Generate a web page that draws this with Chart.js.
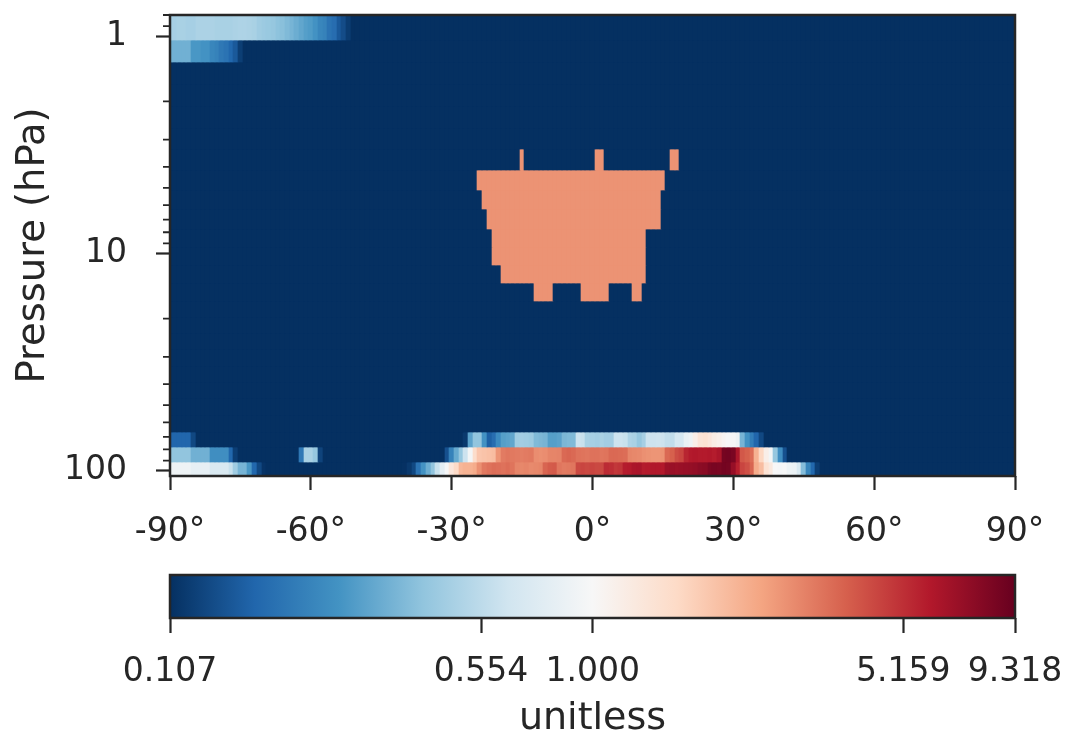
<!DOCTYPE html>
<html>
<head>
<meta charset="utf-8">
<script src="https://cdn.jsdelivr.net/npm/chart.js@4/dist/chart.umd.min.js"></script>
<style>
  html, body { margin: 0; padding: 0; background: #fff; overflow: hidden; }
  #wrap { position: relative; width: 1065px; height: 735px; }
  #wrap canvas { position: absolute; left: 0; }
  #heat { top: 0; }
  #cbar { top: 560px; }
</style>
</head>
<body>
<div id="wrap">
  <canvas id="heat" width="1065" height="560"></canvas>
  <canvas id="cbar" width="1065" height="175"></canvas>
</div>
<script>
// Latitude cell centres (deg)
const latitudes = [
  -90, -89, -88, -87, -86, -85, -84, -83, -82, -81, -80, -79, -78, -77, -76, -75, -74, -73, -72, -71,
  -70, -69, -68, -67, -66, -65, -64, -63, -62, -61, -60, -59, -58, -57, -56, -55, -54, -53, -52, -51,
  -50, -49, -48, -47, -46, -45, -44, -43, -42, -41, -40, -39, -38, -37, -36, -35, -34, -33, -32, -31,
  -30, -29, -28, -27, -26, -25, -24, -23, -22, -21, -20, -19, -18, -17, -16, -15, -14, -13, -12, -11,
  -10, -9, -8, -7, -6, -5, -4, -3, -2, -1, 0, 1, 2, 3, 4, 5, 6, 7, 8, 9,
  10, 11, 12, 13, 14, 15, 16, 17, 18, 19, 20, 21, 22, 23, 24, 25, 26, 27, 28, 29,
  30, 31, 32, 33, 34, 35, 36, 37, 38, 39, 40, 41, 42, 43, 44, 45, 46, 47, 48, 49,
  50, 51, 52, 53, 54, 55, 56, 57, 58, 59, 60, 61, 62, 63, 64, 65, 66, 67, 68, 69,
  70, 71, 72, 73, 74, 75, 76, 77, 78, 79, 80, 81, 82, 83, 84, 85, 86, 87, 88, 89, 90
];
// Pressure level edges (hPa), top of plot to bottom
const pressureEdges = [0.8, 1.04, 1.32, 1.67, 2.10, 2.64, 3.31, 4.13, 5.11, 6.24, 7.71, 9.35,
  11.28, 13.67, 16.5, 19.6, 23.3, 27.7, 32.9, 39.1, 46.5, 55.3, 66.2, 77.6, 91.4, 106];

// Axis ticks
const xTicks = [-90, -60, -30, 0, 30, 60, 90];
const yTicks = [1, 10, 100];
const yMinorTicks = [0.8, 0.9, 2, 3, 4, 5, 6, 7, 8, 9, 20, 30, 40, 50, 60, 70, 80, 90];
const colorTicks = [0.107, 0.554, 1.000, 5.159, 9.318];

// Value of every cell not listed below (bottom of the colour scale)
const fillValue = 0.107;

// Level 0 (0.80-1.04 hPa) from 90S
const lev0From90S = [0.47, 0.47, 0.48, 0.48, 0.47, 0.47, 0.49, 0.49, 0.49, 0.49, 0.48, 0.48, 0.48, 0.48,
  0.49, 0.50, 0.50, 0.49, 0.48, 0.45, 0.44, 0.43, 0.42, 0.40, 0.39, 0.37, 0.35, 0.33, 0.31, 0.29,
  0.28, 0.26, 0.23, 0.22, 0.19, 0.18, 0.15, 0.135, 0.118];
// Level 1 (1.04-1.32 hPa) from 90S
const lev1From90S = [0.34, 0.34, 0.34, 0.34, 0.34, 0.27, 0.27, 0.26, 0.26, 0.23, 0.22, 0.20, 0.19, 0.17, 0.15, 0.12];

// Level 22 (66-78 hPa)
const lev22From90S = [0.167, 0.167, 0.167, 0.167, 0.167, 0.13];
const lev22From27S = [0.115, 0.30, 0.41, 0.41, 0.26, 0.16, 0.18, 0.24, 0.29, 0.30,
  0.31, 0.45, 0.46, 0.45, 0.44, 0.37, 0.36, 0.35, 0.29, 0.29,
  0.30, 0.36, 0.37, 0.37, 0.62, 0.60, 0.48, 0.47, 0.46, 0.48,
  0.46, 0.46, 0.62, 0.62, 0.60, 0.50, 0.48, 0.42, 0.47, 0.62,
  0.62, 0.63, 0.62, 0.58, 0.57, 0.68, 0.68, 0.85, 0.90, 1.15,
  1.35, 1.40, 1.30, 1.18, 1.12, 1.05, 1.00, 0.98, 0.90, 0.35,
  0.26, 0.21, 0.167, 0.13];

// Level 23 (78-91 hPa)
const lev23From90S = [0.41, 0.41, 0.41, 0.41, 0.41, 0.34, 0.34, 0.34, 0.34, 0.25, 0.25, 0.25, 0.25, 0.17, 0.12];
const lev23From62S = [0.20, 0.48, 0.48, 0.42, 0.125];
const lev23From31S = [0.14, 0.22, 0.32, 0.42, 0.62, 0.95, 1.5, 1.85, 1.9, 1.95,
  2.0, 2.7, 3.2, 3.3, 3.25, 3.2, 3.15, 3.2, 3.25, 2.85,
  2.8, 2.85, 3.0, 3.0, 3.05, 3.6, 3.7, 3.6, 3.4, 3.35,
  3.3, 3.4, 3.4, 3.3, 3.35, 3.6, 3.6, 3.55, 3.5, 3.0,
  2.95, 2.9, 2.8, 2.75, 2.7, 2.7, 2.75, 3.6, 3.8, 4.3,
  4.5, 5.5, 5.9, 6.0, 5.9, 5.9, 6.0, 5.8, 6.2, 8.5,
  8.7, 8.3, 6.2, 4.0, 3.8, 3.5, 2.2, 1.6, 1.15, 0.95,
  0.42, 0.25, 0.14];

// Level 24 (91-106 hPa)
const lev24From90S = [0.90, 0.90, 0.90, 0.90, 0.90, 0.82, 0.82, 0.82, 0.82, 0.70, 0.70, 0.70, 0.70,
  0.60, 0.45, 0.35, 0.35, 0.27, 0.17, 0.13, 0.11];
const lev24From40S = [0.108, 0.115, 0.13, 0.19, 0.26, 0.33, 0.41, 0.60, 0.80, 0.98,
  1.30, 1.55, 2.10, 2.20, 2.20, 2.30, 2.80, 3.25, 3.40, 3.50,
  3.45, 3.40, 3.50, 3.35, 3.00, 2.95, 3.00, 2.90, 2.95, 3.00,
  3.70, 3.90, 3.95, 3.30, 3.20, 3.25, 3.30, 4.40, 4.50, 4.40,
  4.50, 4.40, 4.40, 5.30, 5.20, 4.90, 5.00, 5.80, 5.90, 6.20,
  6.30, 5.80, 5.90, 6.00, 6.00, 5.95, 6.80, 6.90, 6.80, 6.90,
  7.00, 7.10, 7.20, 7.50, 7.60, 8.20, 8.40, 8.30, 8.60, 8.50,
  7.00, 5.70, 4.50, 4.20, 3.70, 2.30, 2.00, 1.40, 1.25, 1.00,
  0.98, 1.00, 0.90, 0.88, 0.70, 0.38, 0.23, 0.17, 0.12];

// Uniform block in the middle stratosphere: [level, first lat, last lat]
const blockValue = 2.75;
const blockSpans = [
  [6, -15, -15], [6, 1, 2], [6, 17, 18],
  [7, -24, 15], [8, -23, 14], [9, -22, 14],
  [10, -21, 11], [11, -21, 11], [12, -19, 11],
  [13, -12, -9], [13, -2, 3], [13, 9, 10]
];

const FONT = '"DejaVu Sans", sans-serif';
const INK = '#262626';

// Build the level x latitude grid
const grid = pressureEdges.slice(1).map(() => latitudes.map(() => fillValue));
function putRun(level, firstLat, values) {
  const i0 = latitudes.indexOf(firstLat);
  values.forEach((v, k) => { grid[level][i0 + k] = v; });
}
putRun(0, -90, lev0From90S);
putRun(1, -90, lev1From90S);
putRun(22, -90, lev22From90S);
putRun(22, -27, lev22From27S);
putRun(23, -90, lev23From90S);
putRun(23, -62, lev23From62S);
putRun(23, -31, lev23From31S);
putRun(24, -90, lev24From90S);
putRun(24, -40, lev24From40S);
blockSpans.forEach(([level, a, b]) => {
  latitudes.forEach((lat, i) => { if (lat >= a && lat <= b) grid[level][i] = blockValue; });
});

// RdBu_r colour map on a log scale
const rdbuR = ['#053061', '#2166ac', '#4393c3', '#92c5de', '#d1e5f0', '#f7f7f7',
  '#fddbc7', '#f4a582', '#d6604d', '#b2182b', '#67001f'];
const rdbuRgb = rdbuR.map(h => [1, 3, 5].map(i => parseInt(h.slice(i, i + 2), 16)));
const logMin = Math.log10(colorTicks[0]);
const logMax = Math.log10(colorTicks[colorTicks.length - 1]);
function colorFor(v) {
  let f = (Math.log10(v) - logMin) / (logMax - logMin);
  f = Math.min(1, Math.max(0, f));
  const s = f * (rdbuRgb.length - 1);
  const i = Math.min(Math.floor(s), rdbuRgb.length - 2);
  const t = s - i;
  const c = rdbuRgb[i].map((a, k) => Math.round(a + (rdbuRgb[i + 1][k] - a) * t));
  return `rgb(${c[0]},${c[1]},${c[2]})`;
}

// Box around the plot area, plus short minor ticks on the log axis
function makeFrame(minorTicks) {
  return {
    id: 'frame',
    afterDatasetsDraw(chart) {
      const { ctx, chartArea: a } = chart;
      ctx.save();
      ctx.strokeStyle = INK;
      ctx.lineWidth = 2.5;
      ctx.strokeRect(a.left, a.top, a.right - a.left, a.bottom - a.top);
      if (minorTicks) {
        const y = chart.scales.y;
        ctx.lineWidth = 1.8;
        ctx.beginPath();
        minorTicks.forEach(v => {
          const py = y.getPixelForValue(v);
          ctx.moveTo(a.left - 7, py);
          ctx.lineTo(a.left, py);
        });
        ctx.stroke();
      }
      ctx.restore();
    }
  };
}

// Snap cell edges to whole pixels so neighbouring cells leave no seams
const snapCells = {
  id: 'snapCells',
  beforeDatasetsDraw(chart) {
    chart.getSortedVisibleDatasetMetas().forEach(meta => meta.data.forEach(bar => {
      const l = Math.round(bar.x - bar.width / 2);
      const r = Math.round(bar.x + bar.width / 2);
      bar.x = (l + r) / 2;
      bar.width = r - l;
      bar.y = Math.round(bar.y);
      bar.base = Math.round(bar.base);
    }));
  }
};

// Drop the automatic edge padding Chart.js adds for tick labels
function noEdgePad(s) {
  s.paddingTop = 0; s.paddingBottom = 0; s.paddingLeft = 0; s.paddingRight = 0;
}

const tickGrid = { drawOnChartArea: false, offset: false, tickLength: 14, tickWidth: 2.2, tickColor: INK };

new Chart(document.getElementById('heat'), {
  type: 'bar',
  data: {
    datasets: grid.map((row, level) => ({
      data: latitudes.map((lat, i) => ({ x: lat, y: [pressureEdges[level], pressureEdges[level + 1]], v: row[i] })),
      backgroundColor: ctx => colorFor(ctx.raw.v),
      borderWidth: 0,
      barPercentage: 1,
      categoryPercentage: 1,
      grouped: false,
      clip: 0
    }))
  },
  options: {
    responsive: false,
    animation: false,
    events: [],
    layout: { padding: { top: 15, right: 50, left: 0, bottom: 0 } },
    plugins: { legend: { display: false }, tooltip: { enabled: false } },
    scales: {
      x: {
        type: 'linear', min: -90, max: 90, offset: false,
        afterBuildTicks: s => { s.ticks = xTicks.map(v => ({ value: v })); },
        afterFit: s => { s.height = 84; noEdgePad(s); },
        grid: tickGrid,
        border: { display: false },
        ticks: { color: INK, font: { family: FONT, size: 33 }, padding: 23, maxRotation: 0, autoSkip: false,
          callback: v => v + '°' }
      },
      y: {
        type: 'logarithmic', reverse: true, offset: false,
        min: pressureEdges[0], max: pressureEdges[pressureEdges.length - 1],
        afterBuildTicks: s => { s.ticks = yTicks.map(v => ({ value: v })); },
        afterFit: s => { s.width = 170; noEdgePad(s); },
        grid: tickGrid,
        border: { display: false },
        ticks: { color: INK, font: { family: FONT, size: 33 }, padding: 29, autoSkip: false,
          callback: v => String(v) },
        title: { display: true, text: 'Pressure (hPa)', color: INK, font: { family: FONT, size: 38.5 },
          padding: { top: 11, bottom: 0 } }
      }
    }
  },
  plugins: [snapCells, makeFrame(yMinorTicks)]
});

// Colorbar
new Chart(document.getElementById('cbar'), {
  type: 'bar',
  data: {
    labels: ['unitless'],
    datasets: [{
      data: [[colorTicks[0], colorTicks[colorTicks.length - 1]]],
      backgroundColor: ctx => {
        const a = ctx.chart.chartArea;
        if (!a) return rdbuR[5];
        const g = ctx.chart.ctx.createLinearGradient(a.left, 0, a.right, 0);
        rdbuR.forEach((c, i) => g.addColorStop(i / (rdbuR.length - 1), c));
        return g;
      },
      borderWidth: 0,
      barPercentage: 1,
      categoryPercentage: 1
    }]
  },
  options: {
    indexAxis: 'y',
    responsive: false,
    animation: false,
    events: [],
    layout: { padding: { top: 15, right: 50, left: 170, bottom: 0 } },
    plugins: { legend: { display: false }, tooltip: { enabled: false } },
    scales: {
      y: { display: false },
      x: {
        type: 'logarithmic', min: colorTicks[0], max: colorTicks[colorTicks.length - 1],
        afterBuildTicks: s => { s.ticks = colorTicks.map(v => ({ value: v })); },
        afterFit: s => { s.height = 117; noEdgePad(s); },
        grid: { drawOnChartArea: false, tickLength: 15, tickWidth: 2.2, tickColor: INK },
        border: { display: false },
        ticks: { color: INK, font: { family: FONT, size: 33 }, padding: 20, maxRotation: 0, autoSkip: false,
          callback: v => Number(v).toFixed(3) },
        title: { display: true, text: 'unitless', color: INK, font: { family: FONT, size: 38 },
          padding: { top: 0, bottom: -7 } }
      }
    }
  },
  plugins: [makeFrame(null)]
});
</script>
</body>
</html>
